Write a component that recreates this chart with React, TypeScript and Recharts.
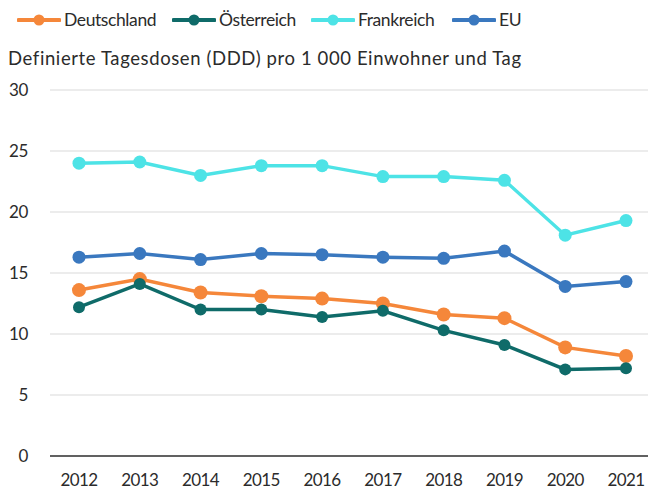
import React from 'react';
import { LineChart, Line, XAxis, YAxis, CartesianGrid, Legend, Label } from 'recharts';

const years = ['2012', '2013', '2014', '2015', '2016', '2017', '2018', '2019', '2020', '2021'];
const deutschland = [13.6, 14.5, 13.4, 13.1, 12.9, 12.5, 11.6, 11.3, 8.9, 8.2];
const oesterreich = [12.2, 14.1, 12.0, 12.0, 11.4, 11.9, 10.3, 9.1, 7.1, 7.2];
const frankreich = [24.0, 24.1, 23.0, 23.8, 23.8, 22.9, 22.9, 22.6, 18.1, 19.3];
const eu = [16.3, 16.6, 16.1, 16.6, 16.5, 16.3, 16.2, 16.8, 13.9, 14.3];
const yTicks = [0, 5, 10, 15, 20, 25, 30];

const data = years.map((year, i) => ({
  year,
  Deutschland: deutschland[i],
  Österreich: oesterreich[i],
  Frankreich: frankreich[i],
  EU: eu[i],
}));

const FONT = 'Lato, sans-serif';
const TEXT = '#2b2b2b';

const series = [
  { key: 'Deutschland', color: '#F5873A', r: 7, w: 155 },
  { key: 'Österreich', color: '#0F6B69', r: 6, w: 139 },
  { key: 'Frankreich', color: '#4DE3E6', r: 6.5, w: 141 },
  { key: 'EU', color: '#3A78BF', r: 6.5, w: 70 },
];

function LegendContent() {
  return (
    <div style={{ display: 'flex', alignItems: 'center', paddingLeft: 17, paddingTop: 9, fontFamily: FONT, fontSize: 17.5, letterSpacing: -0.4, color: TEXT }}>
      {series.map((s) => (
        <div key={s.key} style={{ display: 'flex', alignItems: 'center', width: s.w, whiteSpace: 'nowrap' }}>
          <svg width={44} height={14} style={{ marginRight: 3 }}>
            <line x1={1.5} y1={7} x2={42.5} y2={7} stroke={s.color} strokeWidth={4} strokeLinecap="round" />
            <circle cx={22} cy={7} r={5.5} fill={s.color} />
          </svg>
          <span>{s.key}</span>
        </div>
      ))}
    </div>
  );
}

export default function App() {
  return (
    <div style={{ position: 'absolute', left: 0, top: 0, background: '#fff' }}>
      <LineChart width={648} height={492} data={data} margin={{ top: 90, right: 0, bottom: 6, left: 0 }}>
        <CartesianGrid vertical={false} stroke="#e6e6e6" strokeWidth={1.5} />
        <XAxis
          dataKey="year"
          padding={{ left: 29, right: 22 }}
          axisLine={{ stroke: '#333', strokeWidth: 1.5 }}
          tickLine={false}
          tickMargin={12}
          height={30}
          tick={{ fill: TEXT, fontSize: 17, letterSpacing: -0.6, fontFamily: FONT }}
        />
        <YAxis
          domain={[0, 30]}
          ticks={yTicks}
          width={50}
          axisLine={false}
          tickLine={false}
          tickMargin={16}
          tick={{ fill: TEXT, fontSize: 17, letterSpacing: -0.4, fontFamily: FONT }}
        >
          <Label
            content={() => (
              <text x={8} y={65} fill={TEXT} fontSize={18.5} letterSpacing={0.6} fontFamily={FONT}>
                Definierte Tagesdosen (DDD) pro 1 000 Einwohner und Tag
              </text>
            )}
          />
        </YAxis>
        <Legend
          verticalAlign="top"
          align="left"
          content={<LegendContent />}
          wrapperStyle={{ position: 'absolute', top: 0, left: 0, width: 648, height: 0, overflow: 'visible' }}
        />
        {series.map((s) => (
          <Line
            key={s.key}
            dataKey={s.key}
            stroke={s.color}
            strokeWidth={3.5}
            dot={{ r: s.r, fill: s.color, stroke: s.color, strokeWidth: 0 }}
            activeDot={false}
            isAnimationActive={false}
          />
        ))}
      </LineChart>
    </div>
  );
}
